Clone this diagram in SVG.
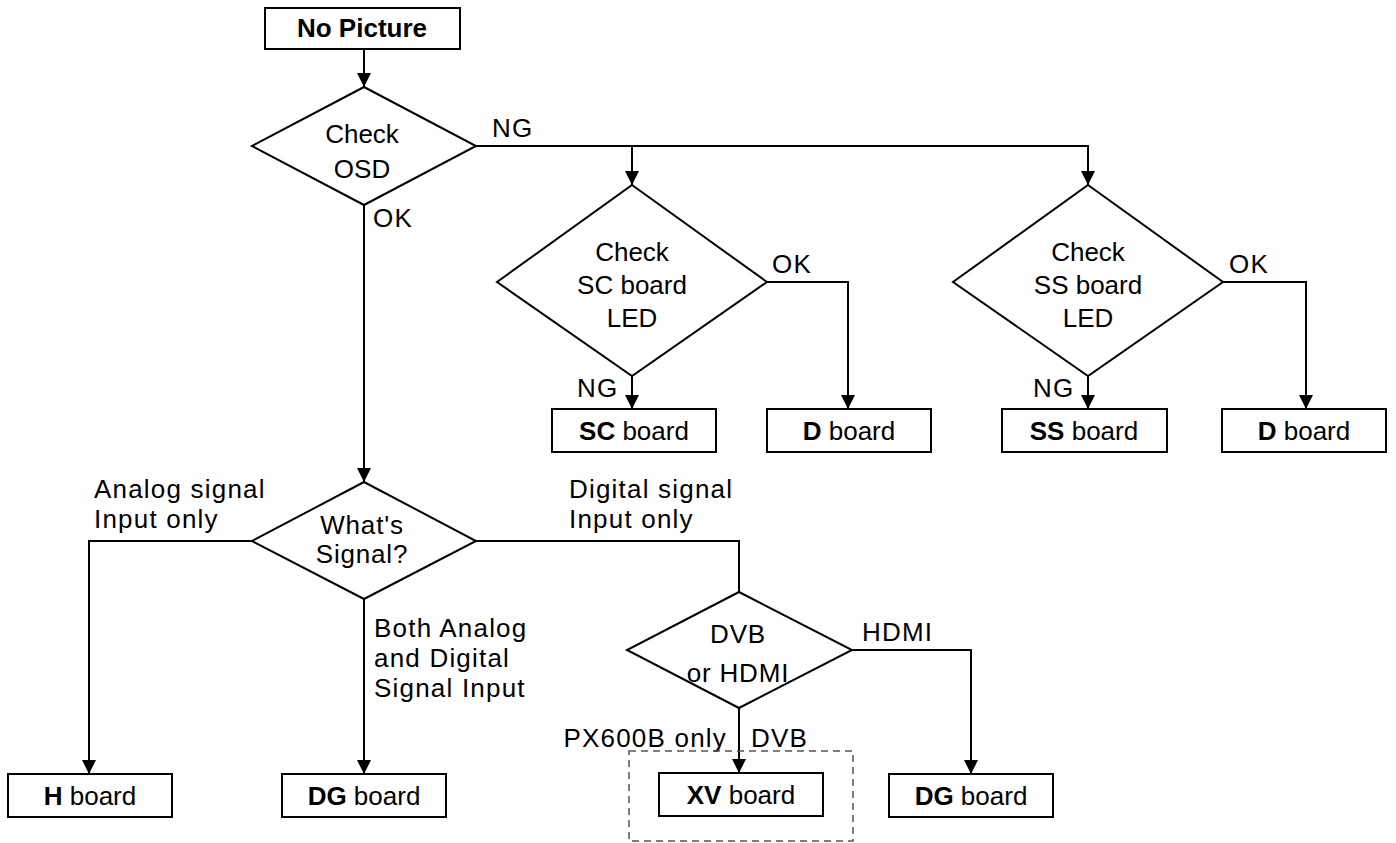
<svg xmlns="http://www.w3.org/2000/svg" width="1396" height="843" viewBox="0 0 1396 843">
<style>
text{font-family:"Liberation Sans",Arial,sans-serif;font-size:26px;fill:#000}
.c{text-anchor:middle}
.b{font-weight:bold}
.lb{letter-spacing:1.2px}
.ws{letter-spacing:0.8px}
.box{fill:#fff;stroke:#000;stroke-width:2}
.dia{fill:#fff;stroke:#000;stroke-width:2}
.ln{fill:none;stroke:#000;stroke-width:2}
.arr{fill:none;stroke:#000;stroke-width:2;marker-end:url(#ah)}
.dash{fill:none;stroke:#555;stroke-width:1.5;stroke-dasharray:7 5}
</style>
<defs>
<marker id="ah" markerUnits="userSpaceOnUse" markerWidth="14" markerHeight="16" viewBox="0 0 14 16" refX="14" refY="7" orient="auto">
<path d="M0,0 L14,7 L0,14 Z" fill="#000"/>
</marker>
</defs>
<rect width="1396" height="843" fill="#fff"/>
<g id="connectors">
<path class="arr" d="M364,49 V87"/>
<path class="arr" d="M476,146 H1088 V185"/>
<path class="arr" d="M632,146 V185"/>
<path class="arr" d="M364,205 V482"/>
<path class="arr" d="M632,376 V409"/>
<path class="arr" d="M767,282 H848 V409"/>
<path class="arr" d="M1088,376 V409"/>
<path class="arr" d="M1223,282 H1306 V409"/>
<path class="arr" d="M252,541 H89 V774"/>
<path class="arr" d="M364,599 V774"/>
<path class="ln" d="M476,541 H739 V592"/>
<path class="arr" d="M739,708 V773"/>
<path class="arr" d="M852,650 H971 V774"/>
</g>
<g id="labels">
<text class="lb" x="492" y="137">NG</text>
<text class="lb" x="373" y="227">OK</text>
<text class="lb" x="772" y="273">OK</text>
<text class="lb" x="577" y="397">NG</text>
<text class="lb" x="1229" y="273">OK</text>
<text class="lb" x="1033" y="397">NG</text>
<text class="lb" x="94" y="498">Analog signal</text>
<text class="lb" x="94" y="528">Input only</text>
<text class="lb" x="569" y="498">Digital signal</text>
<text class="lb" x="569" y="528">Input only</text>
<text class="lb" x="374" y="637">Both Analog</text>
<text class="lb" x="374" y="667">and Digital</text>
<text class="lb" x="374" y="697">Signal Input</text>
<text class="lb" x="862" y="641">HDMI</text>
<text class="lb" x="727" y="747" text-anchor="end">PX600B only</text>
<text class="lb" x="751" y="747">DVB</text>
</g>
<g id="node-nopicture">
<rect class="box" x="265" y="8" width="195" height="41"/>
<text class="c b" x="362" y="37">No Picture</text>
</g>
<g id="node-checkosd">
<polygon class="dia" points="364,87 476,146 364,205 252,146"/>
<text class="c" x="362" y="143">Check</text>
<text class="c" x="362" y="178">OSD</text>
</g>
<g id="node-checksc">
<polygon class="dia" points="632,185 767,282 632,376 497,282"/>
<text class="c" x="632" y="261">Check</text>
<text class="c" x="632" y="294">SC board</text>
<text class="c" x="632" y="327">LED</text>
</g>
<g id="node-checkss">
<polygon class="dia" points="1088,185 1223,282 1088,376 953,282"/>
<text class="c" x="1088" y="261">Check</text>
<text class="c" x="1088" y="294">SS board</text>
<text class="c" x="1088" y="327">LED</text>
</g>
<g id="node-scboard">
<rect class="box" x="552" y="409" width="164" height="43"/>
<text class="c" x="634" y="440"><tspan class="b">SC</tspan> board</text>
</g>
<g id="node-dboard1">
<rect class="box" x="767" y="409" width="164" height="43"/>
<text class="c" x="849" y="440"><tspan class="b">D</tspan> board</text>
</g>
<g id="node-ssboard">
<rect class="box" x="1002" y="409" width="165" height="43"/>
<text class="c" x="1084" y="440"><tspan class="b">SS</tspan> board</text>
</g>
<g id="node-dboard2">
<rect class="box" x="1222" y="409" width="164" height="43"/>
<text class="c" x="1304" y="440"><tspan class="b">D</tspan> board</text>
</g>
<g id="node-whatssignal">
<polygon class="dia" points="364,482 476,541 364,599 252,541"/>
<text class="c ws" x="362" y="534">What's</text>
<text class="c ws" x="362" y="563">Signal?</text>
</g>
<g id="node-dvbhdmi">
<polygon class="dia" points="739,592 852,650 739,708 627,650"/>
<text class="c ws" x="738" y="643">DVB</text>
<text class="c ws" x="738" y="682">or HDMI</text>
</g>
<g id="node-hboard">
<rect class="box" x="8" y="774" width="164" height="43"/>
<text class="c" x="90" y="805"><tspan class="b">H</tspan> board</text>
</g>
<g id="node-dgboard1">
<rect class="box" x="282" y="774" width="164" height="43"/>
<text class="c" x="364" y="805"><tspan class="b">DG</tspan> board</text>
</g>
<g id="node-px600b">
<rect class="dash" x="629" y="751" width="224" height="90"/>
</g>
<g id="node-xvboard">
<rect class="box" x="659" y="773" width="164" height="43"/>
<text class="c" x="741" y="804"><tspan class="b">XV</tspan> board</text>
</g>
<g id="node-dgboard2">
<rect class="box" x="889" y="774" width="164" height="43"/>
<text class="c" x="971" y="805"><tspan class="b">DG</tspan> board</text>
</g>
</svg>
